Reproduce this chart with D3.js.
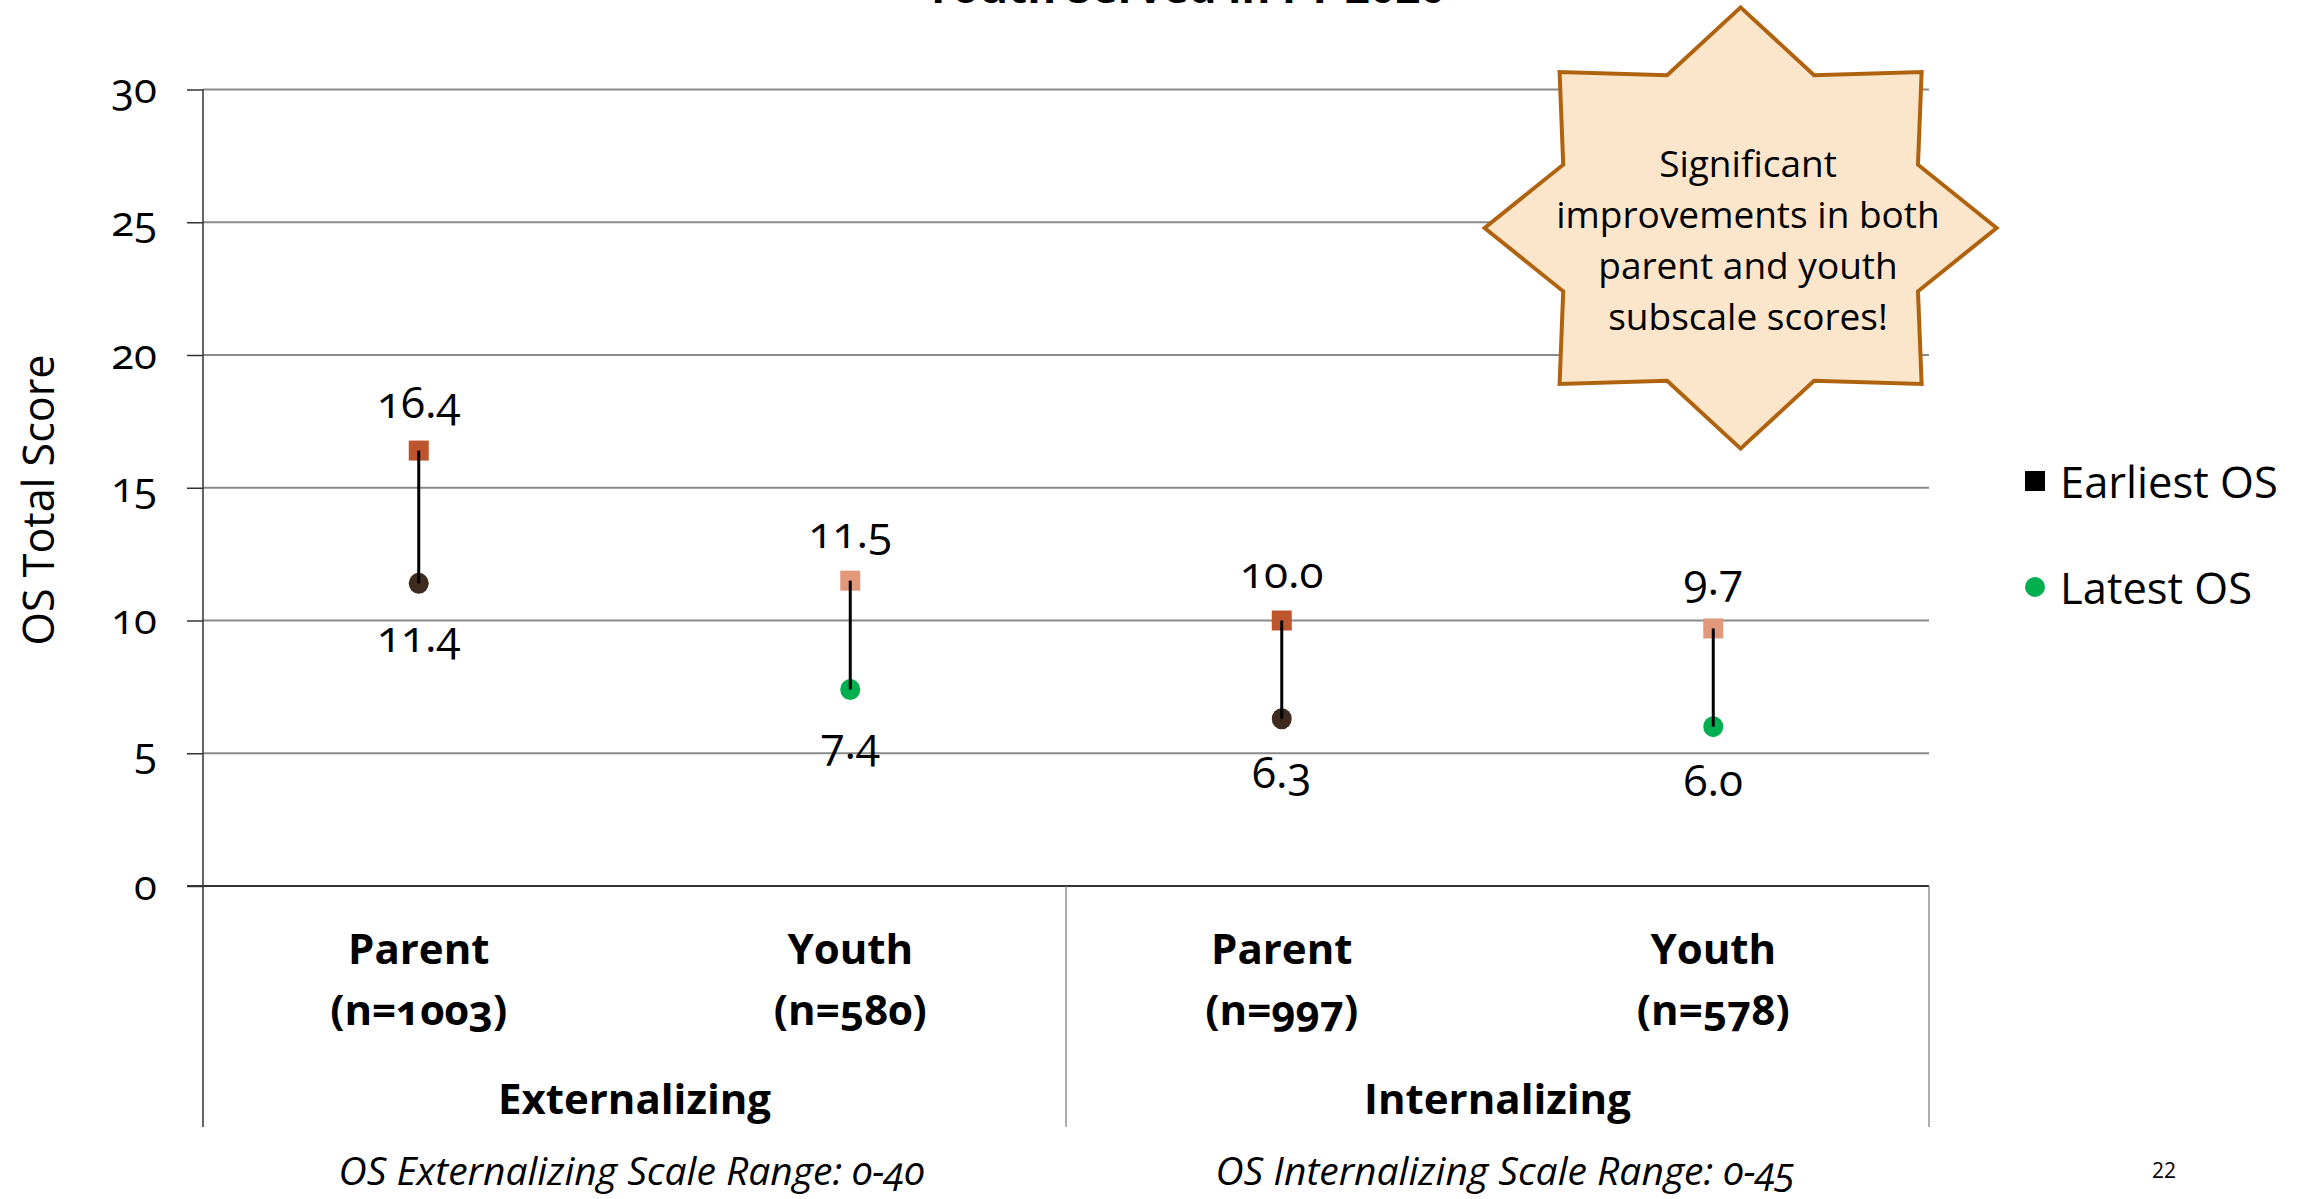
<!DOCTYPE html>
<html>
<head>
<meta charset="utf-8">
<script src="https://cdn.jsdelivr.net/npm/d3@7"></script>
<style>
  html, body { margin: 0; padding: 0; background: #fff; }
  svg { display: block; font-family: "Open Sans", sans-serif; }
  .num { font-variant-numeric: oldstyle-nums; font-feature-settings: "onum" 1; }
</style>
</head>
<body>
<svg id="chart" width="2307" height="1199"></svg>
<script>
// ---- data ----
const titleText = "Youth Served in FY 2020";
const respondents = ["Parent", "Youth", "Parent", "Youth"];
const sampleSizes = ["(n=1003)", "(n=580)", "(n=997)", "(n=578)"];
const scaleGroups = ["Externalizing", "Externalizing", "Internalizing", "Internalizing"];
const groupNames = ["Externalizing", "Internalizing"];
const groupRanges = ["OS Externalizing Scale Range: 0-40", "OS Internalizing Scale Range: 0-45"];
const earliestOS = [16.4, 11.5, 10.0, 9.7];
const latestOS = [11.4, 7.4, 6.3, 6.0];
const earliestColors = ["#BE562D", "#E2987B", "#BE562D", "#E2987B"];
const latestColors = ["#3F2A1F", "#00B050", "#3F2A1F", "#00B050"];
const yTicks = [0, 5, 10, 15, 20, 25, 30];
const seriesNames = ["Earliest OS", "Latest OS"];
const calloutLines = ["Significant", "improvements in both", "parent and youth", "subscale scores!"];
const pageNumber = "22";

// ---- layout ----
const svg = d3.select("#chart");
const plotLeft = 203, plotRight = 1929, plotTop = 89.5, plotBottom = 886, axisBottom = 1127;
const keys = respondents.map((d, i) => i);
const x = d3.scaleBand().domain(keys).range([plotLeft, plotRight]).padding(0);
const y = d3.scaleLinear().domain([0, 30]).range([plotBottom, plotTop]);
const fmt = d3.format(".1f");

// title (mostly cut off at top, as in the reference)
svg.append("text").attr("x", 1185).attr("y", 3)
  .attr("text-anchor", "middle").attr("font-size", 44).attr("font-weight", 700)
  .attr("fill", "#000").text(titleText);

// gridlines
svg.append("g").selectAll("line").data(yTicks.filter(t => t > 0)).join("line")
  .attr("x1", plotLeft).attr("x2", plotRight)
  .attr("y1", d => y(d)).attr("y2", d => y(d))
  .attr("stroke", "#8a8a8a").attr("stroke-width", 2);

// y axis
const yAxis = d3.axisLeft(y).tickValues(yTicks).tickSize(16).tickPadding(30).tickFormat(d3.format("d"));
const gy = svg.append("g").attr("transform", `translate(${plotLeft},0)`).call(yAxis);
gy.select(".domain").remove();
gy.selectAll(".tick line").attr("stroke", "#333").attr("stroke-width", 1.5);
gy.selectAll(".tick text").attr("font-size", 42).attr("fill", "#000")
  .attr("font-family", "Open Sans, sans-serif").attr("class", "num");

// axis frame lines
svg.append("line").attr("x1", plotLeft).attr("x2", plotLeft).attr("y1", plotTop).attr("y2", axisBottom)
  .attr("stroke", "#333").attr("stroke-width", 1.5);
svg.append("line").attr("x1", plotLeft - 16).attr("x2", plotRight).attr("y1", plotBottom).attr("y2", plotBottom)
  .attr("stroke", "#333").attr("stroke-width", 2);
const groupEdges = [plotLeft, x(2), plotRight];
svg.append("g").selectAll("line").data(groupEdges.slice(1)).join("line")
  .attr("x1", d => d).attr("x2", d => d).attr("y1", plotBottom).attr("y2", axisBottom)
  .attr("stroke", "#777").attr("stroke-width", 1.2);

// y axis title
svg.append("text").attr("transform", "translate(37,500) rotate(-90)")
  .attr("text-anchor", "middle").attr("dominant-baseline", "central")
  .attr("font-size", 43).attr("fill", "#000").text("OS Total Score");

// category labels
const cx = i => x(i) + x.bandwidth() / 2;
const cat = svg.append("g").attr("font-weight", 700).attr("font-size", 42).attr("text-anchor", "middle").attr("fill", "#000");
cat.selectAll(".r").data(keys).join("text").attr("class", "r")
  .attr("x", cx).attr("y", 947).attr("dominant-baseline", "central").text(i => respondents[i]);
cat.selectAll(".n").data(keys).join("text").attr("class", "n num")
  .attr("x", cx).attr("y", 1008).attr("dominant-baseline", "central").text(i => sampleSizes[i]);
cat.selectAll(".g").data(groupNames).join("text").attr("class", "g")
  .attr("x", (d, j) => (groupEdges[j] + groupEdges[j + 1]) / 2).attr("y", 1097)
  .attr("dominant-baseline", "central").text(d => d);

// scale range notes
svg.append("g").selectAll("text").data(groupRanges).join("text")
  .attr("class", "num")
  .attr("x", (d, j) => (groupEdges[j] + groupEdges[j + 1]) / 2 + (j === 0 ? -3 : 8)).attr("y", 1169)
  .attr("text-anchor", "middle").attr("dominant-baseline", "central")
  .attr("font-style", "italic").attr("font-size", 39).attr("fill", "#000").text(d => d);

// markers and connectors
const pts = svg.append("g");
const sq = 20;
pts.selectAll(".e").data(keys).join("rect").attr("class", "e")
  .attr("x", i => cx(i) - sq / 2).attr("y", i => y(earliestOS[i]) - sq / 2)
  .attr("width", sq).attr("height", sq).attr("fill", i => earliestColors[i]);
pts.selectAll(".l").data(keys).join("ellipse").attr("class", "l")
  .attr("cx", cx).attr("cy", i => y(latestOS[i]))
  .attr("rx", 10).attr("ry", 10.5).attr("fill", i => latestColors[i]);
pts.selectAll(".conn").data(keys).join("line").attr("class", "conn")
  .attr("x1", cx).attr("x2", cx)
  .attr("y1", i => y(earliestOS[i])).attr("y2", i => y(latestOS[i]))
  .attr("stroke", "#000").attr("stroke-width", 3);

// data labels
const lab = svg.append("g").attr("font-size", 44).attr("text-anchor", "middle").attr("fill", "#000");
lab.selectAll(".le").data(keys).join("text").attr("class", "le num")
  .attr("x", cx).attr("y", i => y(earliestOS[i]) - 50).attr("dominant-baseline", "central")
  .text(i => fmt(earliestOS[i]));
lab.selectAll(".ll").data(keys).join("text").attr("class", "ll num")
  .attr("x", cx).attr("y", i => y(latestOS[i]) + 52).attr("dominant-baseline", "central")
  .text(i => fmt(latestOS[i]));

// legend
const leg = svg.append("g").attr("transform", "translate(2035,0)");
leg.append("rect").attr("x", -10).attr("y", 481 - 10).attr("width", 20).attr("height", 20).attr("fill", "#000");
leg.append("circle").attr("cx", 0).attr("cy", 587).attr("r", 10).attr("fill", "#00B050");
leg.selectAll("text").data(seriesNames).join("text")
  .attr("x", 25).attr("y", (d, i) => i === 0 ? 481 : 587).attr("dominant-baseline", "central")
  .attr("font-size", 43.5).attr("fill", "#000").text(d => d);

// callout star
const scx = 1740.6, scy = 228, rx = 256, ry = 220.6, inner = 0.75;
const starPts = d3.range(16).map(k => {
  const a = k * Math.PI / 8;
  const r = k % 2 === 0 ? 1 : inner;
  return [scx + Math.sin(a) * r * rx, scy - Math.cos(a) * r * ry];
});
svg.append("path").attr("d", d3.line()(starPts) + "Z")
  .attr("fill", "#FBE5CB").attr("stroke", "#B0630F").attr("stroke-width", 4).attr("stroke-linejoin", "miter");
svg.append("g").selectAll("text").data(calloutLines).join("text")
  .attr("x", 1748).attr("y", (d, i) => 162 + i * 51).attr("text-anchor", "middle")
  .attr("dominant-baseline", "central").attr("font-size", 37).attr("fill", "#000").text(d => d);

// page number
svg.append("text").attr("x", 2164).attr("y", 1170).attr("text-anchor", "middle")
  .attr("dominant-baseline", "central").attr("font-size", 21).attr("fill", "#000").text(pageNumber);
</script>
</body>
</html>
